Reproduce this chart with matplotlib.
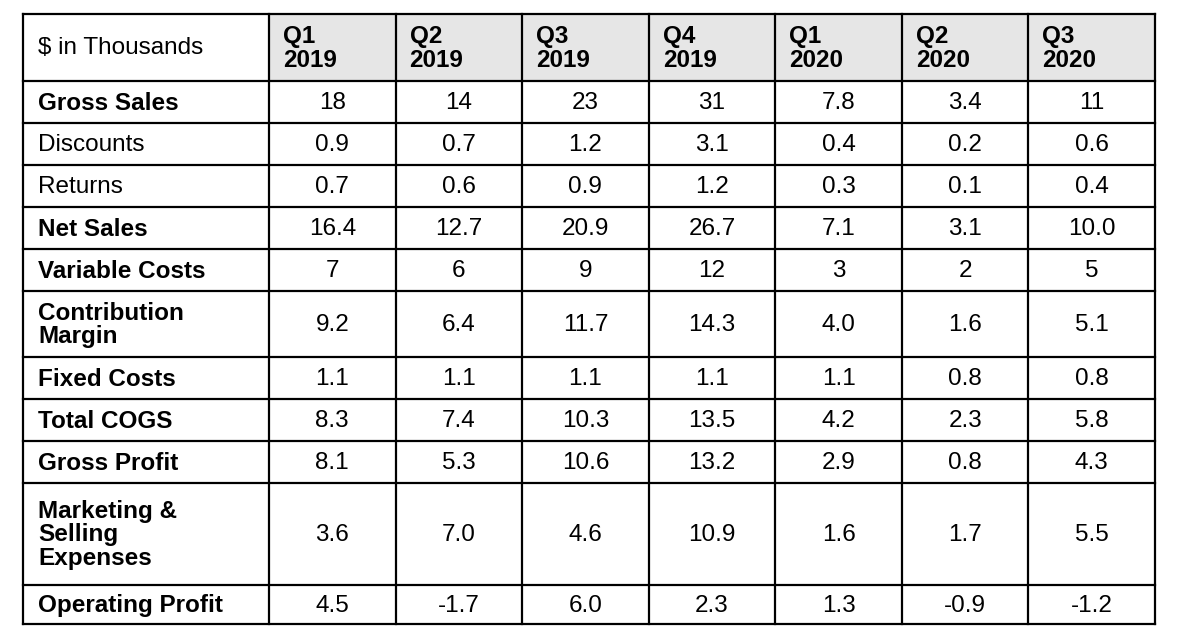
import matplotlib.pyplot as plt
from matplotlib.patches import Rectangle

plt.rcParams['font.family'] = ['Liberation Sans', 'DejaVu Sans']

corner_label = '$ in Thousands'
quarters = ['Q1\n2019', 'Q2\n2019', 'Q3\n2019', 'Q4\n2019',
            'Q1\n2020', 'Q2\n2020', 'Q3\n2020']
row_labels = ['Gross Sales', 'Discounts', 'Returns', 'Net Sales',
              'Variable Costs', 'Contribution\nMargin', 'Fixed Costs',
              'Total COGS', 'Gross Profit', 'Marketing &\nSelling\nExpenses',
              'Operating Profit']
row_bold = [True, False, False, True, True, True, True, True, True, True, True]
values = [
    ['18', '14', '23', '31', '7.8', '3.4', '11'],
    ['0.9', '0.7', '1.2', '3.1', '0.4', '0.2', '0.6'],
    ['0.7', '0.6', '0.9', '1.2', '0.3', '0.1', '0.4'],
    ['16.4', '12.7', '20.9', '26.7', '7.1', '3.1', '10.0'],
    ['7', '6', '9', '12', '3', '2', '5'],
    ['9.2', '6.4', '11.7', '14.3', '4.0', '1.6', '5.1'],
    ['1.1', '1.1', '1.1', '1.1', '1.1', '0.8', '0.8'],
    ['8.3', '7.4', '10.3', '13.5', '4.2', '2.3', '5.8'],
    ['8.1', '5.3', '10.6', '13.2', '2.9', '0.8', '4.3'],
    ['3.6', '7.0', '4.6', '10.9', '1.6', '1.7', '5.5'],
    ['4.5', '-1.7', '6.0', '2.3', '1.3', '-0.9', '-1.2'],
]

W, H = 1178, 642
fig = plt.figure(figsize=(W / 100, H / 100), dpi=100)
ax = fig.add_axes([0, 0, 1, 1])
ax.set_xlim(0, W)
ax.set_ylim(H, 0)
ax.axis('off')

left, top = 23, 14
first_w = 246
col_w = (1155 - left - first_w) / len(quarters)
header_h = 67
fs = 17.5

# row heights (pixels) depend on number of label lines
line_extra = {0: 42, 1: 66, 2: 102}
heights = [line_extra[lbl.count('\n')] for lbl in row_labels]
heights[-1] = 39

xs = [left, left + first_w] + [left + first_w + (i + 1) * col_w
                               for i in range(len(quarters))]

# header
ax.add_patch(Rectangle((xs[1], top), xs[-1] - xs[1], header_h,
                       facecolor='#e6e6e6', edgecolor='none'))
ax.text(left + 15, top + header_h / 2 + 1, corner_label, fontsize=fs,
        va='center', ha='left')
for i, q in enumerate(quarters):
    ax.text(xs[i + 1] + 14, top + header_h / 2 + 1, q, fontsize=fs,
            fontweight='bold', va='center', ha='left', linespacing=1.1)

y = top + header_h
ys = [top, y]
for lbl, bold, vals, h in zip(row_labels, row_bold, values, heights):
    cy = y + h / 2
    ax.text(left + 15, cy + 1, lbl, fontsize=fs, va='center', ha='left',
            fontweight='bold' if bold else 'normal', linespacing=1.05)
    for i, v in enumerate(vals):
        ax.text((xs[i + 1] + xs[i + 2]) / 2, cy + 1, v, fontsize=fs,
                va='center', ha='center')
    y += h
    ys.append(y)

# grid lines
for x in xs:
    ax.plot([x, x], [ys[0], ys[-1]], color='black', lw=1.6,
            solid_capstyle='projecting')
for yy in ys:
    ax.plot([xs[0], xs[-1]], [yy, yy], color='black', lw=1.6,
            solid_capstyle='projecting')

fig.savefig('out.png', dpi=100)
